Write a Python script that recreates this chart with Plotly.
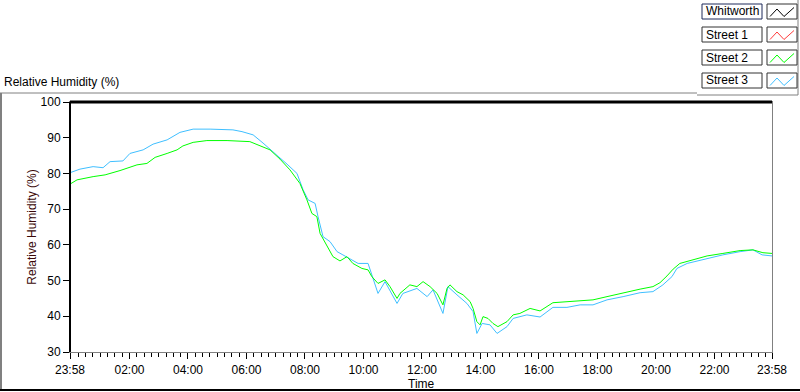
import plotly.graph_objects as go

# ---------------- data (elapsed hours since 23:58 start, RH %) ----------------
street2_hours = [0.00, 0.24, 0.79, 1.20, 1.71, 1.95, 2.29, 2.63, 2.91, 3.32, 3.66, 3.86, 4.21, 4.68,
                 5.37, 6.15, 6.60, 6.84, 7.18, 7.52, 7.86, 8.10, 8.27, 8.44, 8.55, 8.79, 8.99, 9.23,
                 9.47, 9.67, 9.98, 10.19, 10.32, 10.53, 10.77, 10.94, 11.18, 11.28, 11.62, 11.86,
                 12.07, 12.31, 12.55, 12.75, 12.89, 12.99, 13.23, 13.44, 13.68, 13.78, 13.91, 14.02,
                 14.12, 14.29, 14.46, 14.63, 14.94, 15.15, 15.38, 15.73, 16.07, 16.51, 16.99, 17.44,
                 17.88, 18.36, 18.91, 19.49, 19.93, 20.17, 20.41, 20.62, 20.85, 21.20, 21.78, 22.32,
                 22.91, 23.35, 23.69, 24.00]
street2_rh = [77.0, 78.2, 79.1, 79.6, 80.8, 81.4, 82.4, 82.8, 84.5, 85.6, 86.6, 87.7, 88.7, 89.2,
              89.2, 88.9, 87.5, 86.6, 84.0, 81.0, 77.2, 72.6, 68.8, 67.9, 63.2, 59.5, 56.7, 55.5,
              56.7, 54.8, 53.4, 53.0, 51.1, 49.2, 50.2, 48.3, 45.0, 46.4, 48.8, 48.3,
              49.7, 48.3, 46.4, 43.2, 47.8, 48.8, 46.9, 46.0, 44.1, 42.2, 38.5, 37.6,
              39.9, 39.4, 38.0, 37.1, 38.5, 40.4, 40.8, 42.2, 41.5, 43.8, 44.1, 44.4,
              44.6, 45.5, 46.6, 47.6, 48.3, 49.4, 51.3, 53.2, 54.8, 55.6, 56.9, 57.6,
              58.4, 58.6, 57.8, 57.6]

street3_hours = [0.00, 0.34, 0.79, 1.13, 1.37, 1.81, 2.05, 2.50, 2.84, 3.32, 3.76, 4.21, 4.79, 5.57,
                 5.88, 6.26, 6.60, 7.08, 7.42, 7.76, 7.97, 8.14, 8.38, 8.48, 8.65, 8.89, 9.13, 9.33,
                 9.85, 10.19, 10.53, 10.77, 11.18, 11.38, 11.86, 12.21, 12.41, 12.75, 12.92, 13.23,
                 13.57, 13.78, 13.91, 14.09, 14.36, 14.60, 14.94, 15.15, 15.62, 16.07, 16.51, 16.99,
                 17.44, 17.88, 18.36, 18.91, 19.49, 19.93, 20.27, 20.58, 20.75, 21.10, 21.78, 22.32,
                 22.91, 23.35, 23.66, 24.00]
street3_rh = [80.2, 81.2, 81.9, 81.6, 83.3, 83.5, 85.6, 86.6, 88.2, 89.4, 91.5, 92.4, 92.4, 92.2,
              91.7, 90.8, 88.5, 85.2, 82.6, 80.0, 75.4, 72.6, 71.6, 67.9, 62.3, 60.9, 58.1, 57.2,
              54.8, 54.8, 46.4, 49.7, 43.6, 46.4, 47.8, 45.5, 47.4, 40.8, 48.3, 46.0,
              43.6, 41.3, 35.2, 38.0, 37.6, 35.2, 37.1, 39.4, 40.4, 39.8, 42.5, 42.5,
              43.2, 43.2, 44.6, 45.5, 46.6, 46.9, 48.8, 51.1, 53.4, 54.8, 56.2, 57.2,
              58.1, 58.6, 57.2, 56.9]

whitworth_hours, whitworth_rh = [], []
street1_hours, street1_rh = [], []

series_names = ["Whitworth", "Street 1", "Street 2", "Street 3"]
series_colors = ["#000000", "#ff3c3c", "#00ff00", "#3fbfff"]

tick_hours = [0.0, 2.0333, 4.0333, 6.0333, 8.0333, 10.0333, 12.0333, 14.0333,
              16.0333, 18.0333, 20.0333, 22.0333, 24.0]
tick_labels = ["23:58", "02:00", "04:00", "06:00", "08:00", "10:00", "12:00", "14:00",
               "16:00", "18:00", "20:00", "22:00", "23:58"]
minor_ticks = [0.0333 + 0.25 * k for k in range(96)]

y_ticks = [30, 40, 50, 60, 70, 80, 90, 100]

x_title = "Time"
y_title = "Relative Humidity (%)"
chart_title = "Relative Humidity (%)"

# ---------------- layout helpers (pixel -> paper) ----------------
W, H = 800, 392
L, R, T, B = 70, 28, 102, 40
PW, PH = W - L - R, H - T - B


def px(x):
    return (x - L) / PW


def py(y):
    return (H - B - y) / PH


FONT = "Liberation Sans, Arial, sans-serif"

fig = go.Figure()
data_sets = {
    "Whitworth": (whitworth_hours, whitworth_rh),
    "Street 1": (street1_hours, street1_rh),
    "Street 3": (street3_hours, street3_rh),
    "Street 2": (street2_hours, street2_rh),
}
for name in ["Whitworth", "Street 1", "Street 3", "Street 2"]:
    xs, ys = data_sets[name]
    fig.add_trace(go.Scatter(x=xs, y=ys, mode="lines", name=name,
                             line=dict(color=series_colors[series_names.index(name)], width=1),
                             showlegend=False, hoverinfo="skip"))

fig.update_layout(
    width=W, height=H, autosize=False,
    margin=dict(l=L, r=R, t=T, b=B, autoexpand=False),
    paper_bgcolor="white", plot_bgcolor="white",
    font=dict(family=FONT, size=12, color="#000000"),
    xaxis=dict(range=[0, 24], tickmode="array", tickvals=tick_hours, ticktext=tick_labels,
               ticks="outside", ticklen=6, tickwidth=1, tickcolor="black",
               ticklabelstandoff=1, automargin=False,
               showgrid=False, zeroline=False,
               showline=True, linecolor="#808080", linewidth=1, mirror=True,
               minor=dict(tickmode="array", tickvals=minor_ticks, ticks="outside",
                          ticklen=4, tickcolor="black", tickwidth=1, showgrid=False),
               tickfont=dict(size=12)),
    yaxis=dict(range=[30, 100], tickmode="array", tickvals=y_ticks,
               ticks="outside", ticklen=6, tickwidth=1, tickcolor="black",
               automargin=False,
               showgrid=False, zeroline=False,
               showline=True, linecolor="#808080", linewidth=1, mirror=True,
               title=dict(text=y_title, font=dict(size=12, color="#3a0808"), standoff=1),
               tickfont=dict(size=12)),
)

shapes = []
# thick black left and top borders of plot area
shapes.append(dict(type="line", xref="paper", yref="paper", x0=0, x1=0, y0=0, y1=1,
                   line=dict(color="black", width=2)))
shapes.append(dict(type="line", xref="paper", yref="paper", x0=0, x1=1, y0=1, y1=1,
                   line=dict(color="black", width=3)))
# outer frame lines
shapes.append(dict(type="line", xref="paper", yref="paper", x0=px(0), x1=px(697), y0=py(93), y1=py(93),
                   line=dict(color="#808080", width=1)))
shapes.append(dict(type="line", xref="paper", yref="paper", x0=px(1), x1=px(1), y0=py(93), y1=py(390),
                   line=dict(color="#808080", width=2)))
shapes.append(dict(type="line", xref="paper", yref="paper", x0=px(0), x1=px(800), y0=py(390), y1=py(390),
                   line=dict(color="black", width=2)))
shapes.append(dict(type="line", xref="paper", yref="paper", x0=px(697), x1=px(798), y0=py(95), y1=py(95),
                   line=dict(color="#808080", width=1)))
shapes.append(dict(type="line", xref="paper", yref="paper", x0=px(798), x1=px(798), y0=py(0), y1=py(95),
                   line=dict(color="#808080", width=1)))

annotations = []
annotations.append(dict(text=chart_title, xref="paper", yref="paper",
                        x=px(2), y=py(82), xanchor="left", yanchor="middle", showarrow=False,
                        font=dict(size=12, color="black")))
annotations.append(dict(text=x_title, xref="paper", yref="paper",
                        x=px(421), y=py(384), xanchor="center", yanchor="middle", showarrow=False,
                        font=dict(size=12, color="black")))

# legend
row_tops = [4, 27, 50, 73]
for i, name in enumerate(series_names):
    top = row_tops[i]
    bot = top + 15
    border = "#1e2a5a" if i == 0 else "#333333"
    shapes.append(dict(type="rect", xref="paper", yref="paper", x0=px(702), x1=px(762),
                       y0=py(bot), y1=py(top), line=dict(color=border, width=1), fillcolor="white"))
    shapes.append(dict(type="rect", xref="paper", yref="paper", x0=px(767), x1=px(797),
                       y0=py(bot), y1=py(top), line=dict(color="#333333", width=1), fillcolor="white"))
    path = "M {} {} L {} {} L {} {} L {} {}".format(
        px(770), py(top + 12.5), px(777), py(top + 5), px(784), py(top + 12.5), px(794), py(top + 3.5))
    shapes.append(dict(type="path", xref="paper", yref="paper", path=path,
                       line=dict(color=series_colors[i], width=1)))
    annotations.append(dict(text=name, xref="paper", yref="paper", x=px(704), y=py(top + 7.5),
                            xanchor="left", yanchor="middle", showarrow=False,
                            font=dict(size=12, color="black")))

fig.update_layout(shapes=shapes, annotations=annotations)
fig.write_html("out.html", config={"displayModeBar": False},
               post_script="document.body.style.margin='0';document.body.style.overflow='hidden';")
